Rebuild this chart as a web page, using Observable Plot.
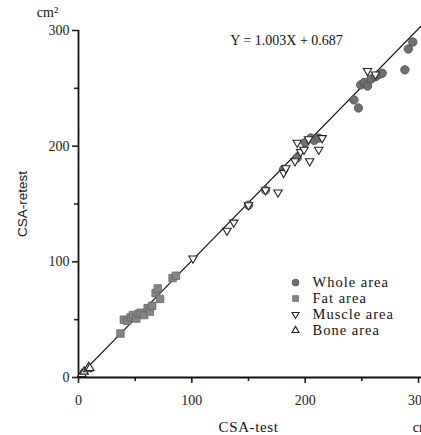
<!DOCTYPE html>
<html><head><meta charset="utf-8">
<script src="https://cdn.jsdelivr.net/npm/d3@7"></script>
<script src="https://cdn.jsdelivr.net/npm/@observablehq/plot@0.6"></script>
<style>
html,body{margin:0;padding:0;background:#fff;}
#chart{position:relative;width:421px;height:435px;overflow:hidden;}
</style></head>
<body><div id="chart"></div>
<script>
// ---- data ----
const wholeX = [150, 165, 181, 193, 200, 205, 208, 212, 243, 247, 249, 252, 255, 258, 262, 265, 268, 288, 291, 295];
const wholeY = [149, 162, 180, 190, 203, 207, 205, 207, 240, 233, 253, 255, 252, 258, 260, 262, 263, 266, 284, 290];
const fatX = [37, 40, 43, 46, 48, 51, 53, 55, 58, 61, 63, 65, 68, 70, 72, 83, 86];
const fatY = [38, 50, 49, 52, 54, 51, 55, 56, 54, 60, 57, 62, 73, 77, 68, 86, 88];
const muscleX = [101, 131, 137, 150, 165, 176, 181, 183, 191, 193, 196, 199, 203, 204, 212, 215, 255, 262];
const muscleY = [103, 127, 134, 149, 162, 160, 177, 181, 187, 203, 195, 197, 206, 187, 197, 207, 265, 262];
const boneX = [3, 5, 8, 9, 10];
const boneY = [3, 5, 7, 9, 8];
const slope = 1.003, intercept = 0.687;
const fitRange = [0, 305];
const majorTicks = [0, 100, 200, 300];
const minorTicks = [50, 150, 250];
const legendLabels = ["Whole area", "Fat area", "Muscle area", "Bone area"];
const equationText = "Y = 1.003X + 0.687";

// ---- build ----
const SERIF = "'Liberation Serif', 'DejaVu Serif', serif";
const SANS = "'Liberation Sans', 'DejaVu Sans', sans-serif";
const pts = (xs, ys) => xs.map((x, i) => ({x, y: ys[i]}));
const whole = pts(wholeX, wholeY), fat = pts(fatX, fatY), muscle = pts(muscleX, muscleY), bone = pts(boneX, boneY);
const fit = fitRange.map(x => ({x, y: slope * x + intercept}));
const sqrt3 = Math.sqrt(3);
const triDown = {draw(ctx, size){ const y = -Math.sqrt(size / (sqrt3 * 3)); ctx.moveTo(0, -2*y); ctx.lineTo(-sqrt3*y, y); ctx.lineTo(sqrt3*y, y); ctx.closePath(); }};
const symbolsFor = ["circle", "square", triDown, "triangle"];
const legend = legendLabels.map((label, i) => ({label, i, x: 191.5, y: 82.1 - i * 13.8}));

const circleStyle = {r: 4.2, fill: "#707070", stroke: "#4a4a4a", strokeWidth: 0.8};
const squareStyle = {r: 4.2, fill: "#858585", stroke: "#666", strokeWidth: 0.8};
const triStyle = {r: 3.1, fill: "white", stroke: "#222", strokeWidth: 1.1};
const styles = [circleStyle, squareStyle, triStyle, triStyle];
const legendR = [3.4, 3.2, 2.6, 2.6];

const chart = Plot.plot({
  width: 421, height: 435,
  marginLeft: 78, marginRight: 3, marginTop: 30, marginBottom: 58,
  x: {domain: [0, 300]}, y: {domain: [0, 300]},
  style: {fontSize: "14px", fontFamily: SERIF, background: "white", color: "#222", overflow: "visible"},
  marks: [
    Plot.axisX({ticks: majorTicks, tickSize: 6, tickPadding: 12, label: null, strokeWidth: 1.6, fontSize: 14, fontFamily: SERIF}),
    Plot.axisX({ticks: minorTicks, tickSize: 4, tickFormat: () => "", label: null, strokeWidth: 1.6}),
    Plot.axisY({ticks: majorTicks, tickSize: 6, tickPadding: 3, label: null, strokeWidth: 1.6, fontSize: 14, fontFamily: SERIF}),
    Plot.axisY({ticks: minorTicks, tickSize: 4, tickFormat: () => "", label: null, strokeWidth: 1.6}),
    Plot.ruleX([0], {y1: 0, y2: 300, stroke: "#111", strokeWidth: 1.8}),
    Plot.ruleY([0], {x1: 0, x2: 310, stroke: "#111", strokeWidth: 1.8}),
    Plot.line(fit, {x: "x", y: "y", stroke: "#111", strokeWidth: 1.2}),
    Plot.dot(fat, {x: "x", y: "y", symbol: () => "square", ...squareStyle}),
    Plot.dot(whole, {x: "x", y: "y", symbol: () => "circle", ...circleStyle}),
    Plot.dot(muscle, {x: "x", y: "y", symbol: () => triDown, ...triStyle}),
    Plot.dot(bone, {x: "x", y: "y", symbol: () => "triangle", ...triStyle}),
    // legend
    ...legend.map(d => Plot.dot([d], {x: "x", y: "y", symbol: () => symbolsFor[d.i], ...styles[d.i], r: legendR[d.i]})),
    Plot.text(legend, {x: d => d.x + 15, y: "y", text: "label", textAnchor: "start", fontSize: 14.5, fill: "#111", fontFamily: SERIF}),
    // equation
    Plot.text([equationText], {x: 134, y: 291, text: d => d, textAnchor: "start", fontSize: 14, fill: "#111", fontFamily: SERIF}),
    // unit labels
    Plot.text(["cm²"], {x: 0, y: 300, dx: -31, dy: -18, text: d => d, fontSize: 14, fill: "#111", fontFamily: SERIF}),
    Plot.text(["cm²"], {x: 300, y: 0, dx: 5, dy: 50, text: d => d, fontSize: 14, fill: "#111", fontFamily: SERIF}),
    Plot.text(["CSA-test"], {x: 150, y: 0, dy: 50, text: d => d, fontSize: 15, fill: "#111", fontFamily: SERIF}),
    Plot.text(["CSA-retest"], {x: 0, y: 150, dx: -56, rotate: -90, text: d => d, fontSize: 13.5, fill: "#111", fontFamily: SANS})
  ]
});
document.getElementById("chart").appendChild(chart);
d3.select(chart).selectAll("text").each(function(){
  const s = this.textContent;
  this.style.fontFamily = s === "CSA-retest" ? SANS : SERIF;
  if (legendLabels.includes(s) || s === "CSA-test") this.style.letterSpacing = s === "CSA-test" ? "0.6px" : "1px";
});
</script></body></html>
